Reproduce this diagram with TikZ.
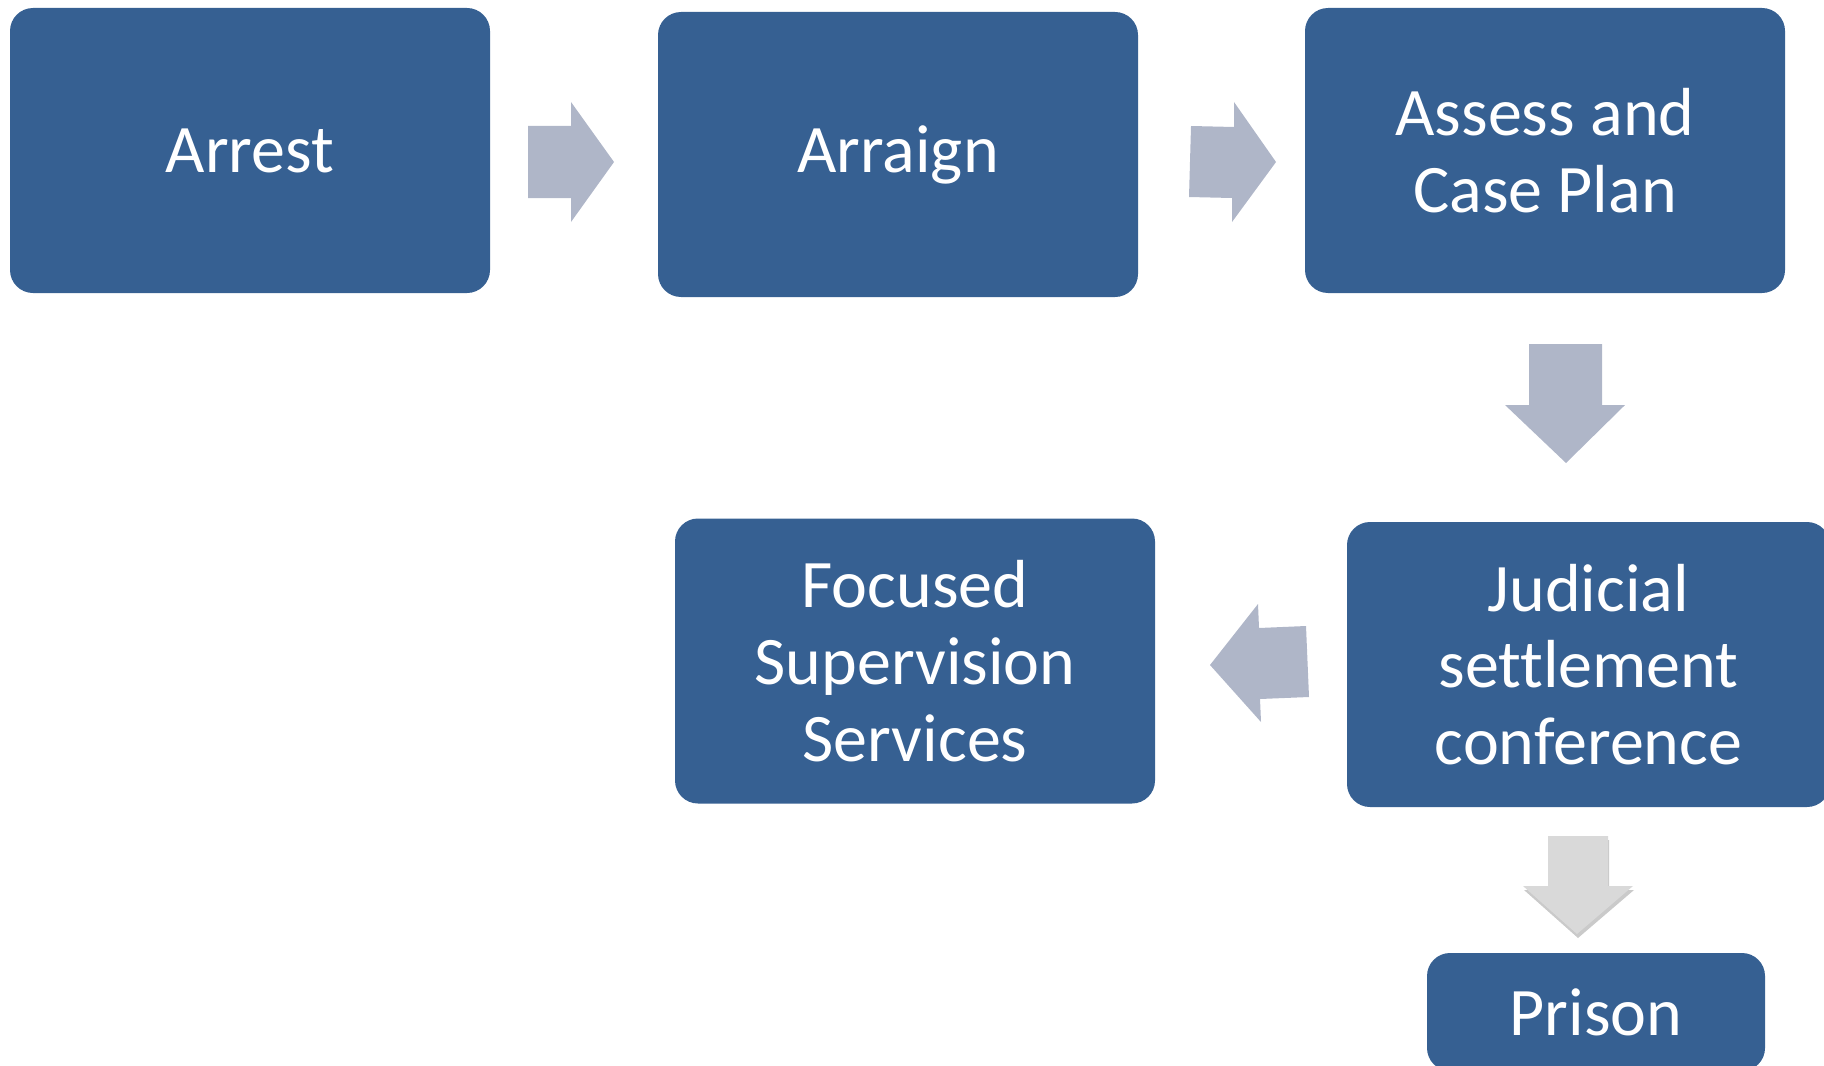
\documentclass[tikz,border=0pt]{standalone}
\usepackage{fontspec}
\setmainfont[Ligatures={NoCommon}]{Carlito}
\usetikzlibrary{shadows}
\definecolor{boxblue}{RGB}{54,96,146}
\definecolor{arrowgray}{RGB}{175,182,200}
\definecolor{lightarrow}{RGB}{217,217,217}
\begin{document}
\begin{tikzpicture}[x=0.5pt,y=-0.5pt,
  stage/.style={rectangle, rounded corners=11.5pt, fill=boxblue, draw=none,
    text=white, align=center, inner sep=0pt,
    font=\fontsize{34}{38.4}\selectfont,
    minimum width=240pt, minimum height=142.5pt},
  blockarrow/.style={fill=arrowgray, draw=none},
  softarrow/.style={fill=lightarrow, draw=none,
    drop shadow={shadow xshift=0.5pt, shadow yshift=-2pt, opacity=0.35, fill=black!60}}]
\useasboundingbox (0,0) rectangle (1824,1065);
\clip (0,0) rectangle (1824,1065);
% boxes
\node[stage] (arrest) at (250,150.5) {Arrest};
\node[stage] (arraign) at (898,154.5) {Arraign};
\node[stage] (assess) at (1545,150.5) {Assess and\\Case Plan};
\node[stage] (focused) at (915,661) {Focused\\Supervision\\Services};
\node[stage, minimum width=241.5pt] (judicial) at (1588.5,664.5) {Judicial\\settlement\\conference};
\node[stage, minimum width=169pt, minimum height=59pt] (prison) at (1596,1012) {Prison};
% arrows
\fill[blockarrow] (528,126) -- (571,126) -- (571,102) -- (614,162) -- (571,222) -- (571,198) -- (528,198) -- cycle;
\fill[blockarrow] (1191,126) -- (1234,127) -- (1234,102) -- (1276,162) -- (1232,222) -- (1232,198) -- (1189,197) -- cycle;
\fill[blockarrow] (1529,344) -- (1602,344) -- (1602,405) -- (1625,405) -- (1566,463) -- (1505,405) -- (1529,405) -- cycle;
\fill[blockarrow] (1306,626) -- (1259,628) -- (1258,604) -- (1210,665) -- (1261,722) -- (1260,699) -- (1309,697) -- cycle;
\path[softarrow] (1548,836) -- (1608,836) -- (1608,886) -- (1633,886) -- (1577,934) -- (1523,886) -- (1548,886) -- cycle;
\end{tikzpicture}
\end{document}
